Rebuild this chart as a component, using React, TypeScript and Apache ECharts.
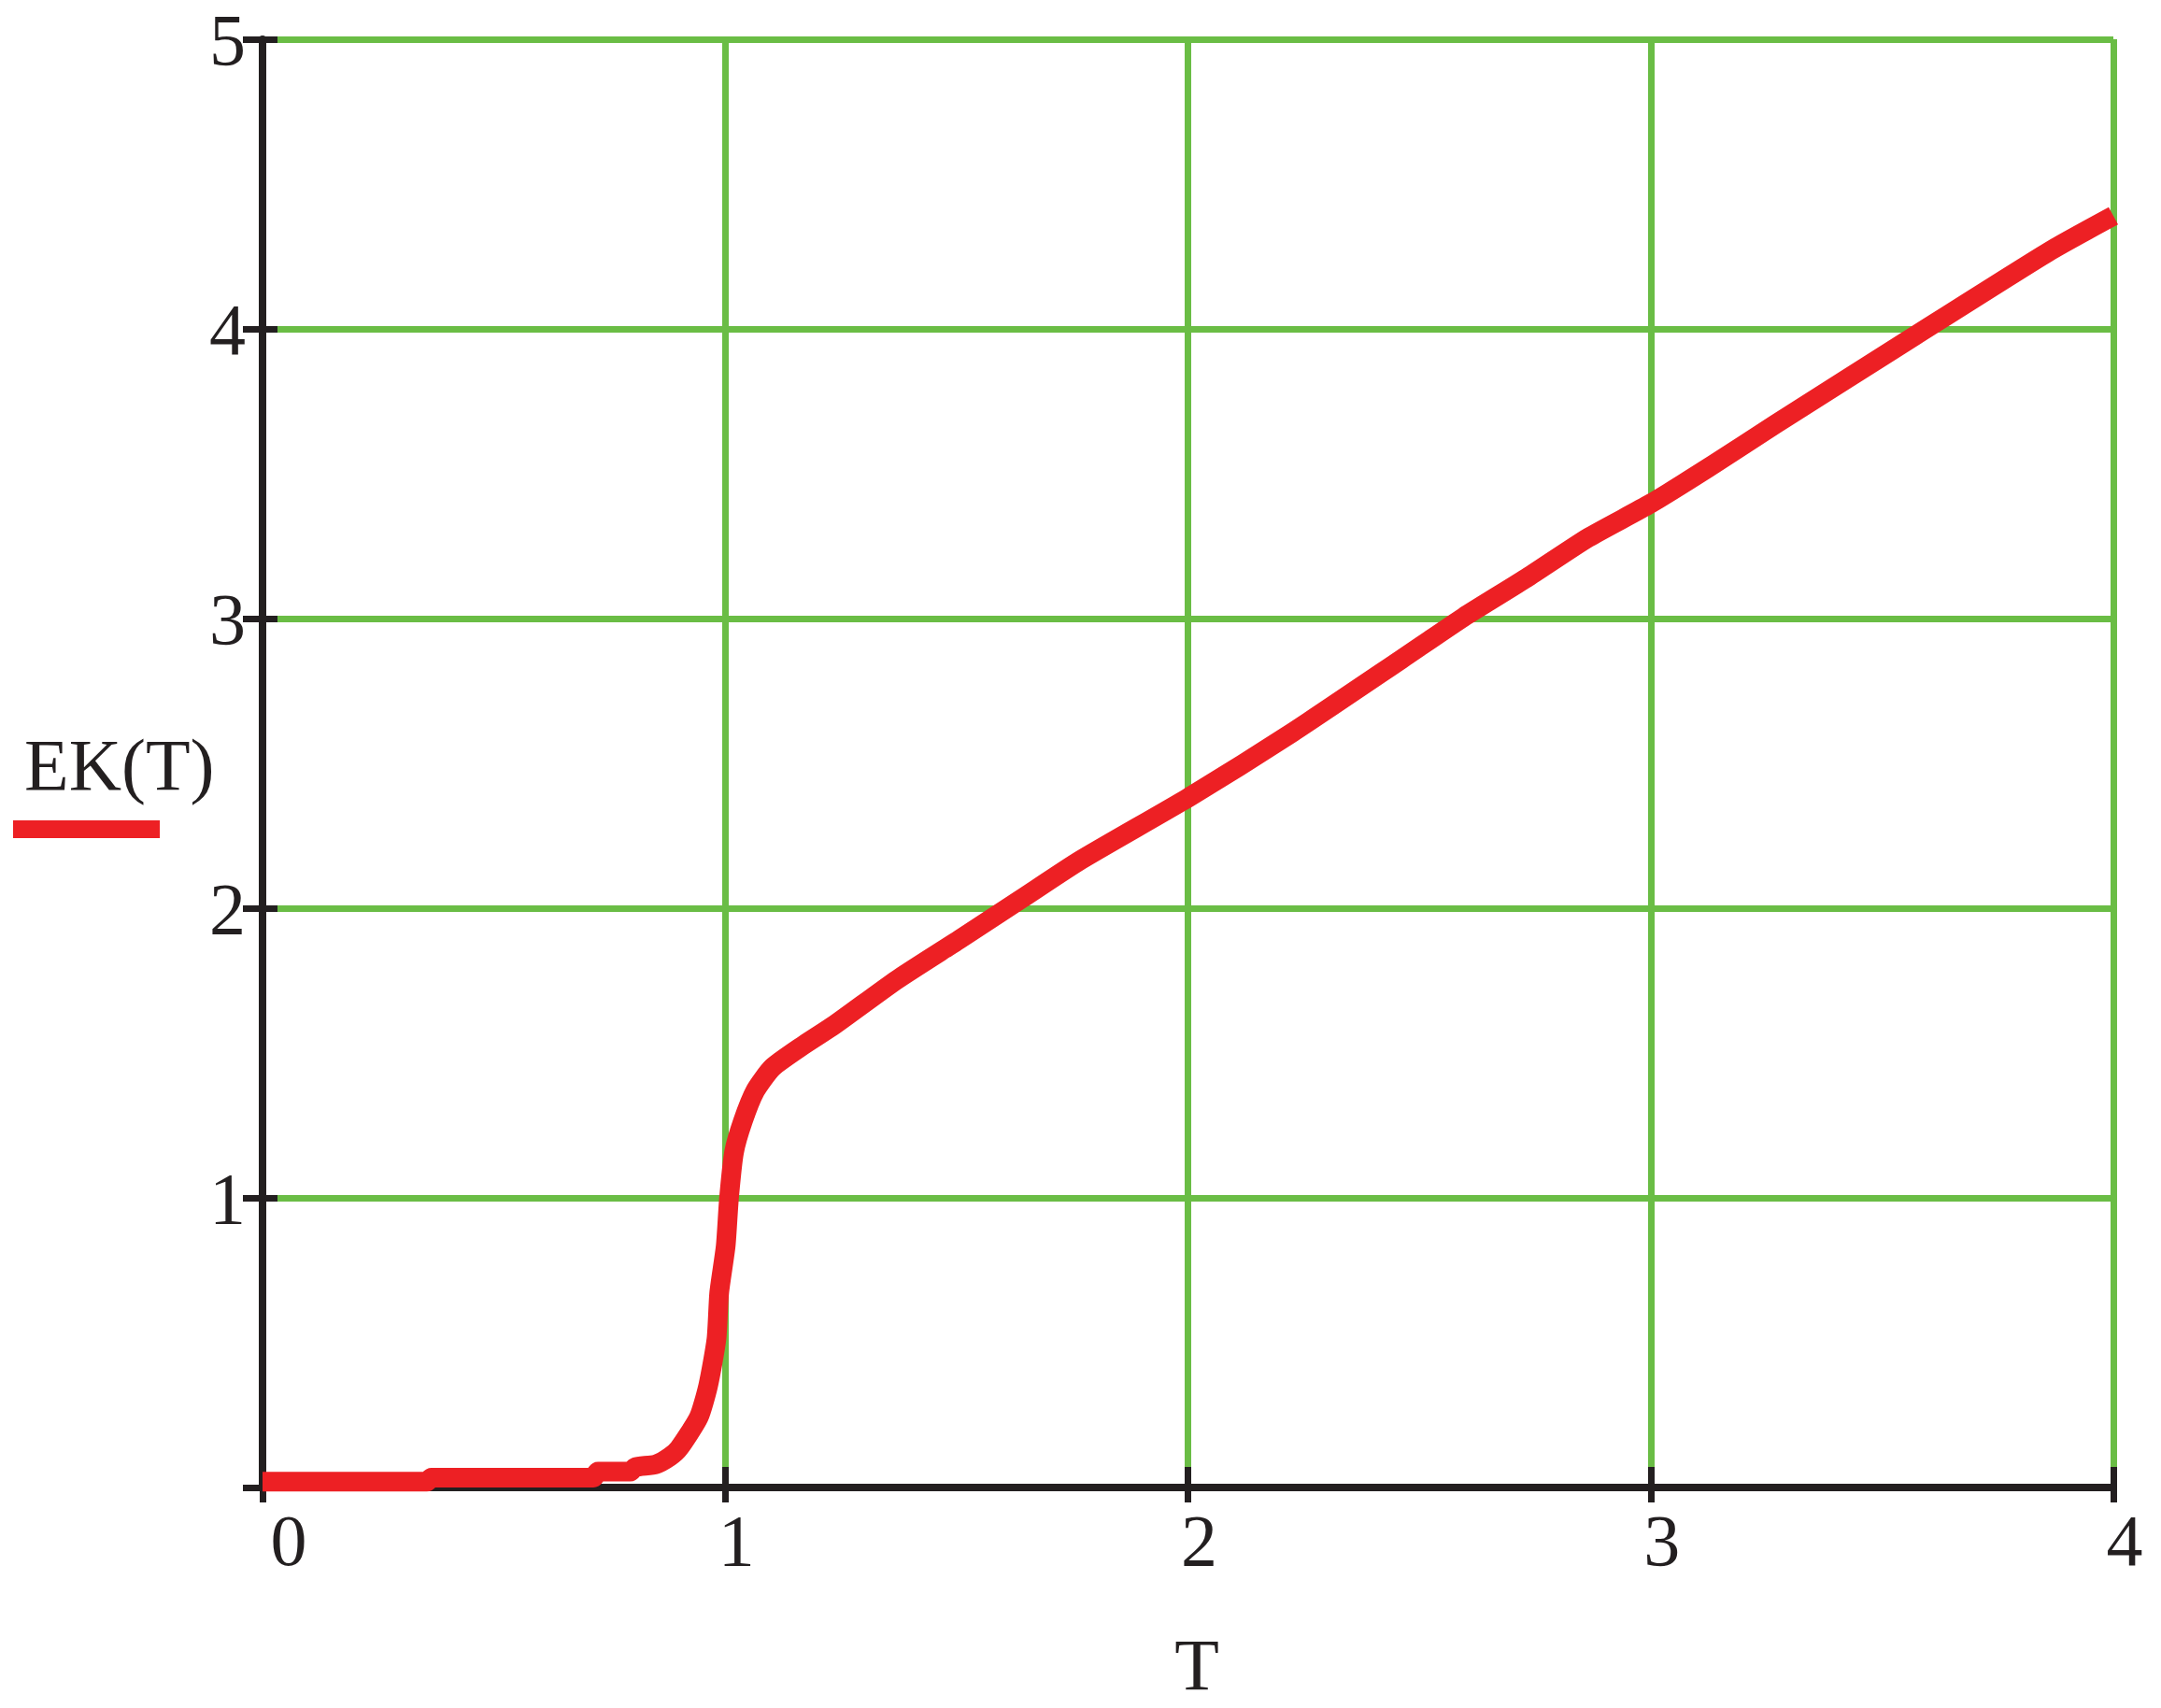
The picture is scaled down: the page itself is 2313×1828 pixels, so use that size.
import React, { useEffect, useRef } from "react";
import * as echarts from "echarts";

const T_VALUES = [
  0, 0.355, 0.365, 0.715, 0.725, 0.795, 0.805, 0.85, 0.88, 0.9, 0.943, 0.963,
  0.981, 0.987, 1.001, 1.008, 1.019, 1.038, 1.065, 1.102, 1.169, 1.236, 1.371,
  1.506, 1.64, 1.768, 2.0, 2.226, 2.461, 2.596, 2.731, 2.865, 3.0, 3.134,
  3.269, 3.572, 3.861, 4.0,
];
const EK_VALUES = [
  0.02, 0.02, 0.034, 0.034, 0.055, 0.055, 0.07, 0.08, 0.106, 0.135, 0.243,
  0.351, 0.512, 0.673, 0.834, 0.996, 1.157, 1.264, 1.37, 1.45, 1.527, 1.597,
  1.753, 1.892, 2.032, 2.166, 2.381, 2.607, 2.859, 3.005, 3.139, 3.279, 3.397,
  3.53, 3.67, 3.977, 4.267, 4.39,
];
const X_TICK_LABELS = ["0", "1", "2", "3", "4"];
const Y_TICK_LABELS = ["", "1", "2", "3", "4", "5"];
const X_NAME = "T";
const Y_NAME = "EK(T)";

const FONT = "'Liberation Serif', 'Times New Roman', serif";
const INK = "#231f20";
const GRID_GREEN = "#6abd45";
const RED = "#ed2024";
const FS = 78;

export default function App() {
  const ref = useRef<HTMLDivElement>(null);
  useEffect(() => {
    if (!ref.current) return;
    const chart = echarts.init(ref.current, null, { renderer: "svg" });
    const data = T_VALUES.map((t, i) => [t, EK_VALUES[i]]);
    const xBase = {
      type: "value" as const,
      min: 0,
      max: 4,
      interval: 1,
      position: "bottom" as const,
    };
    const yBase = {
      type: "value" as const,
      min: 0,
      max: 5,
      interval: 1,
      position: "left" as const,
    };
    chart.setOption({
      animation: false,
      backgroundColor: "#ffffff",
      grid: { left: 281, right: 51, top: 41, bottom: 236, containLabel: false },
      xAxis: [
        {
          ...xBase,
          axisLine: { show: true, onZero: false, lineStyle: { color: INK, width: 8 } },
          axisTick: { show: true, inside: false, length: 16, lineStyle: { color: INK, width: 7 } },
          splitLine: { show: true, lineStyle: { color: GRID_GREEN, width: 7 } },
          axisLabel: {
            show: true,
            margin: 17,
            color: INK,
            fontFamily: FONT,
            fontSize: FS,
            lineHeight: FS,
            formatter: (v: number) => {
              const s = X_TICK_LABELS[Math.round(v)] ?? "";
              return v === 0 ? `{z|${s}}` : `{n|${s}}`;
            },
            rich: {
              n: { fontFamily: FONT, fontSize: FS, color: INK, lineHeight: FS, padding: [0, 0, 0, 24] },
              z: { fontFamily: FONT, fontSize: FS, color: INK, lineHeight: FS, padding: [0, 0, 0, 56] },
            },
          },
        },
        {
          ...xBase,
          axisLine: { show: false },
          axisTick: { show: true, inside: true, length: 22, lineStyle: { color: INK, width: 7 } },
          splitLine: { show: false },
          axisLabel: { show: false },
        },
      ],
      yAxis: [
        {
          ...yBase,
          axisLine: { show: true, onZero: false, lineStyle: { color: INK, width: 8 } },
          axisTick: { show: true, inside: false, length: 21, lineStyle: { color: INK, width: 7 } },
          splitLine: { show: true, lineStyle: { color: GRID_GREEN, width: 7 } },
          axisLabel: {
            show: true,
            margin: 18,
            color: INK,
            fontFamily: FONT,
            fontSize: FS,
            lineHeight: FS,
            padding: [6, 0, 0, 0],
            formatter: (v: number) => Y_TICK_LABELS[Math.round(v)] ?? "",
          },
        },
        {
          ...yBase,
          axisLine: { show: false },
          axisTick: { show: true, inside: true, length: 16, lineStyle: { color: INK, width: 7 } },
          splitLine: { show: false },
          axisLabel: { show: false },
        },
      ],
      series: [
        {
          type: "line",
          name: Y_NAME,
          data,
          xAxisIndex: 0,
          yAxisIndex: 0,
          showSymbol: false,
          symbol: "none",
          smooth: 0.2,
          lineStyle: { color: RED, width: 21, cap: "butt", join: "round" },
          z: 5,
        },
      ],
      graphic: [
        {
          type: "text",
          x: 26,
          y: 818,
          style: {
            text: Y_NAME,
            font: `${FS}px ${FONT}`,
            fill: INK,
            textAlign: "left",
            textVerticalAlign: "middle",
          },
        },
        {
          type: "rect",
          shape: { x: 14, y: 878, width: 157, height: 19 },
          style: { fill: RED },
        },
        {
          type: "text",
          x: 1281,
          y: 1781,
          style: {
            text: X_NAME,
            font: `${FS}px ${FONT}`,
            fill: INK,
            textAlign: "center",
            textVerticalAlign: "middle",
          },
        },
      ],
    });
    return () => chart.dispose();
  }, []);
  return (
    <div
      ref={ref}
      style={{ position: "fixed", left: 0, top: 0, width: 2313, height: 1828 }}
    />
  );
}
